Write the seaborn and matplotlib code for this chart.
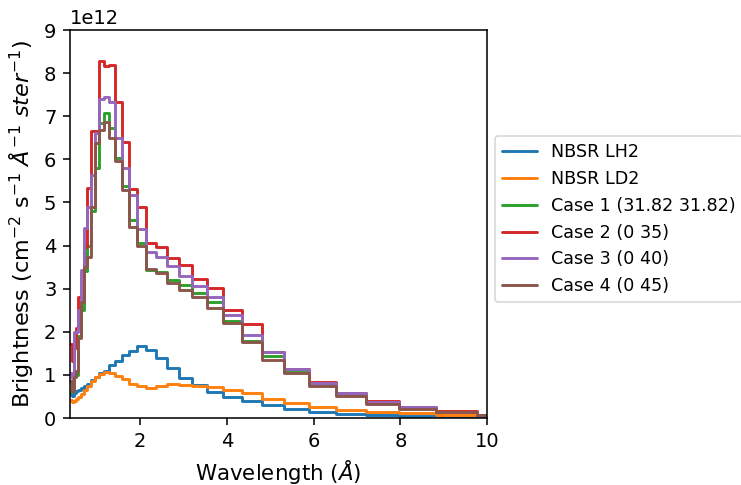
import numpy as np
import pandas as pd
import matplotlib
matplotlib.use("Agg")
import matplotlib.pyplot as plt
import seaborn as sns

# bin edges (Angstrom)
edges = [0.378, 0.419, 0.463, 0.513, 0.568, 0.628, 0.696, 0.770, 0.853, 0.944,
         1.045, 1.157, 1.280, 1.417, 1.569, 1.737, 1.923, 2.128, 2.356, 2.608,
         2.887, 3.196, 3.538, 3.917, 4.336, 4.800, 5.314, 5.882, 6.512, 7.209,
         7.980, 8.834, 9.779, 10.825]

# brightness per bin, units of 1e12
nbsr_lh2 = [0.55, 0.52, 0.58, 0.62, 0.66, 0.70, 0.75, 0.80, 0.88, 0.96,
            1.04, 1.10, 1.22, 1.33, 1.46, 1.55, 1.68, 1.58, 1.40, 1.17,
            0.93, 0.77, 0.60, 0.49, 0.40, 0.29, 0.20, 0.15, 0.10, 0.07,
            0.05, 0.04, 0.03]
nbsr_ld2 = [0.42, 0.38, 0.40, 0.45, 0.48, 0.55, 0.65, 0.75, 0.85, 0.95,
            1.03, 1.07, 1.05, 0.98, 0.90, 0.78, 0.74, 0.70, 0.74, 0.78,
            0.77, 0.75, 0.72, 0.65, 0.57, 0.44, 0.34, 0.26, 0.19, 0.13,
            0.11, 0.07, 0.06]
case1 = [0.60, 0.85, 0.98, 1.00, 1.90, 2.50, 3.40, 4.00, 4.79, 5.80,
         6.84, 7.08, 6.72, 6.03, 5.38, 4.59, 4.05, 3.43, 3.39, 3.20,
         3.09, 2.89, 2.68, 2.26, 1.79, 1.44, 1.07, 0.78, 0.55, 0.35,
         0.23, 0.14, 0.07]
case2 = [1.72, 1.32, 1.62, 2.08, 2.80, 2.80, 3.97, 5.33, 6.66, 6.66,
         8.27, 8.16, 8.19, 7.32, 6.41, 5.31, 4.90, 4.07, 3.97, 3.70,
         3.55, 3.22, 3.01, 2.51, 2.18, 1.54, 1.14, 0.84, 0.59, 0.39,
         0.26, 0.16, 0.08]
case3 = [1.04, 0.92, 2.00, 2.00, 2.50, 3.43, 4.40, 4.90, 5.64, 6.60,
         7.39, 7.44, 7.34, 6.49, 5.79, 5.17, 4.38, 3.86, 3.74, 3.53,
         3.29, 3.06, 2.80, 2.39, 1.93, 1.52, 1.14, 0.82, 0.57, 0.37,
         0.25, 0.15, 0.08]
case4 = [0.85, 0.62, 0.95, 1.10, 1.85, 2.70, 3.50, 3.74, 4.90, 6.37,
         6.68, 6.87, 6.49, 5.95, 5.29, 4.44, 3.99, 3.45, 3.36, 3.13,
         2.97, 2.80, 2.55, 2.20, 1.76, 1.35, 1.04, 0.74, 0.51, 0.32,
         0.21, 0.13, 0.07]

labels = ["NBSR LH2", "NBSR LD2", "Case 1 (31.82 31.82)", "Case 2 (0 35)",
          "Case 3 (0 40)", "Case 4 (0 45)"]
series = [nbsr_lh2, nbsr_ld2, case1, case2, case3, case4]

rows = []
for lab, vals in zip(labels, series):
    ys = list(vals) + [vals[-1]]
    for x, y in zip(edges, ys):
        rows.append({"wl": x, "b": y * 1e12, "series": lab})
df = pd.DataFrame(rows)

sns.set_style("ticks")
plt.rcParams["font.family"] = ["DejaVu Sans"]
plt.rcParams["mathtext.fontset"] = "dejavusans"
plt.rcParams["text.color"] = "black"
plt.rcParams["axes.labelcolor"] = "black"
plt.rcParams["xtick.color"] = "black"
plt.rcParams["ytick.color"] = "black"

dpi = 140
fig = plt.figure(figsize=(741 / dpi, 485 / dpi), dpi=dpi)
ax = fig.add_axes([70 / 741, 1 - 418 / 485, (487 - 70) / 741, (418 - 30) / 485])

palette = sns.color_palette("tab10", 6)
sns.lineplot(data=df, x="wl", y="b", hue="series", hue_order=labels,
             palette=palette, drawstyle="steps-post", estimator=None,
             linewidth=1.5, ax=ax)

ax.set_xlim(edges[0], 10)
ax.set_ylim(0, 9e12)
ax.set_xticks([2, 4, 6, 8, 10])
ax.set_yticks(np.arange(0, 10) * 1e12)
ax.set_xlabel(r"Wavelength ($Å$)", fontsize=11, color="black")
ax.set_ylabel(r"Brightness (cm$^{-2}$ s$^{-1}$ $Å^{-1}$ $ster^{-1}$)", fontsize=11.5,
              color="black")
for s in ax.spines.values():
    s.set_color("black")
    s.set_linewidth(0.8)
ax.tick_params(colors="black", labelsize=10, width=0.8, length=3.5)
ax.yaxis.get_offset_text().set_color("black")

sns.move_legend(ax, "center left", bbox_to_anchor=(0.998, 0.512), title=None,
                frameon=True, fontsize=9, handlelength=2.0)
leg = ax.get_legend()
leg.get_frame().set_edgecolor("#cccccc")
leg.get_frame().set_linewidth(0.8)
for t in leg.get_texts():
    t.set_color("black")

fig.savefig("out.png", dpi=dpi)
